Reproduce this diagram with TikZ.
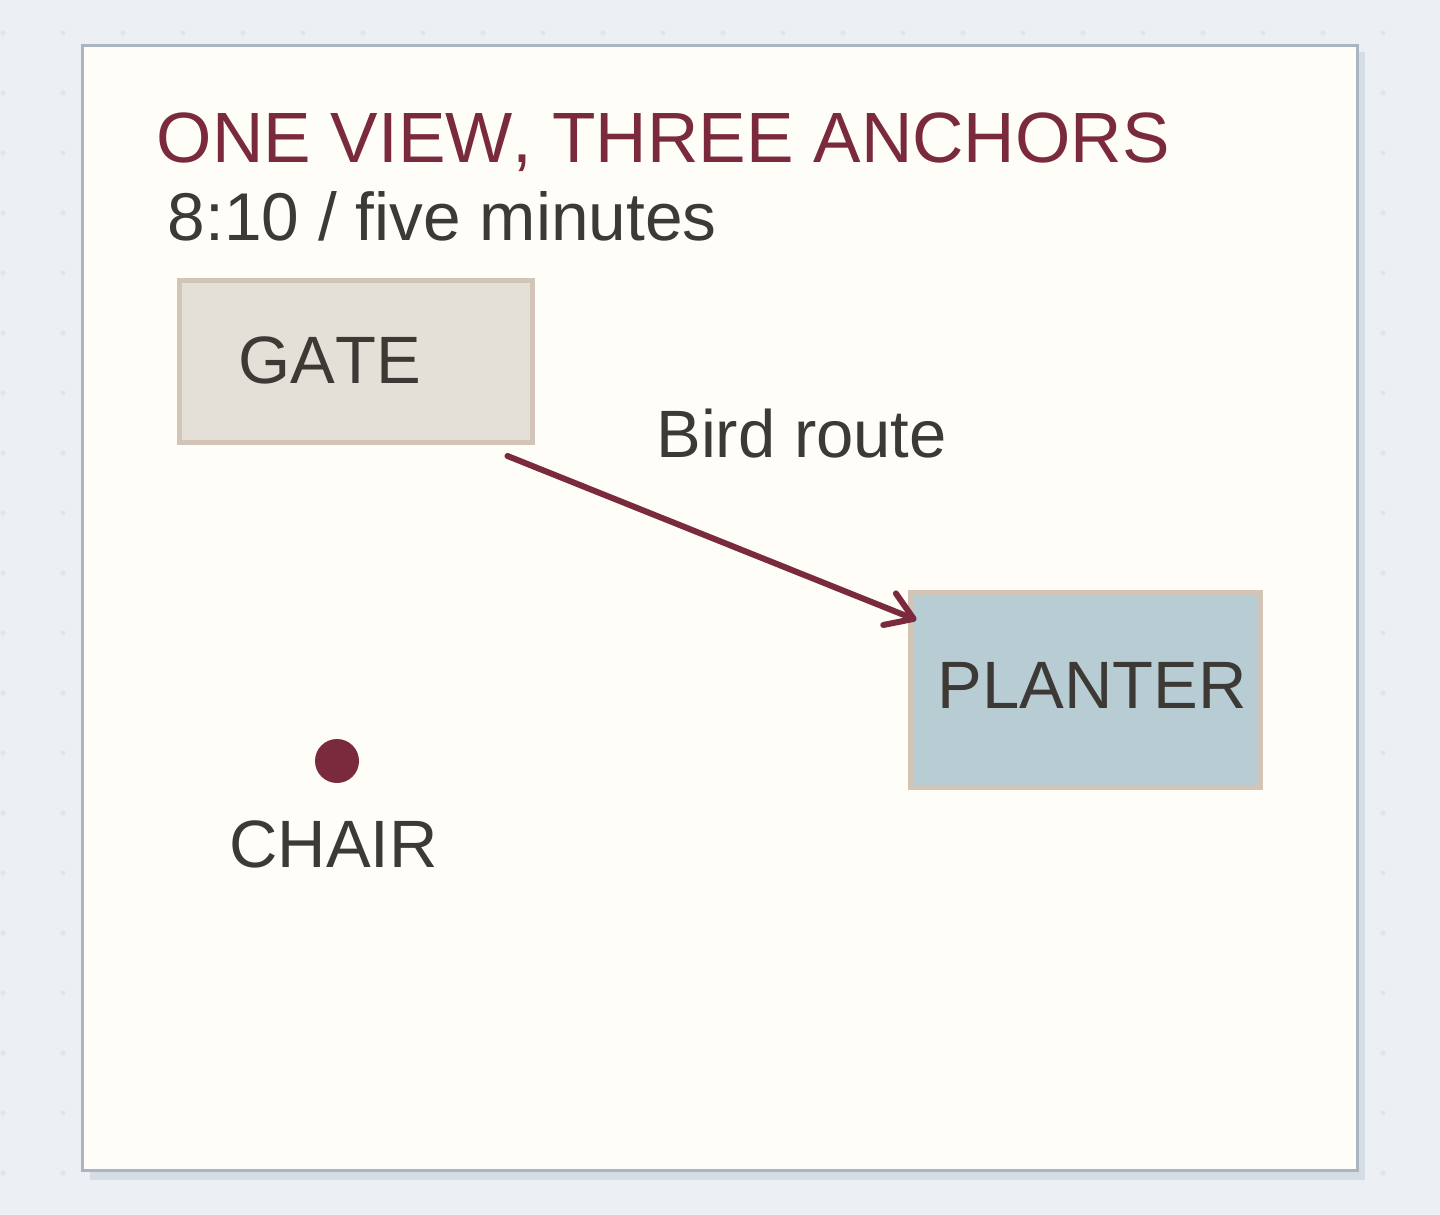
\documentclass[tikz,border=0pt]{standalone}
\usepackage{fontspec}
\setmainfont[Kerning=Off]{Liberation Sans}
\usetikzlibrary{arrows.meta,calc}
\definecolor{bgc}{HTML}{ECF0F5}
\definecolor{dotc}{HTML}{E1E5EB}
\definecolor{panelc}{HTML}{FEFDF8}
\definecolor{panelline}{HTML}{A9B5C1}
\definecolor{shadowc}{HTML}{D4DCE4}
\definecolor{titlec}{HTML}{7A2A3C}
\definecolor{inkc}{HTML}{3D3935}
\definecolor{gatefill}{HTML}{E4E0D7}
\definecolor{boxline}{HTML}{D2C5B7}
\definecolor{planterfill}{HTML}{B8CCD4}
\tikzset{
  labeltext/.style={inner sep=0pt, anchor=base west, text=inkc, font=\fontsize{33.5}{40}\selectfont},
  anchorbox/.style={draw=boxline, line width=2.5pt, inner sep=0pt},
  route/.style={draw=titlec, line width=3pt, line cap=round, -{Straight Barb[length=13pt,width=17pt,line cap=round,line join=round]}},
}
\begin{document}
\begin{tikzpicture}[x=0.5pt,y=-0.5pt]
\useasboundingbox (0,0) rectangle (1440,1215);
\fill[bgc] (0,0) rectangle (1440,1215);
\foreach \i in {0,...,23} {
  \foreach \j in {0,...,19} {
    \fill[dotc] ({3+60*\i},{33+60*\j}) circle (2.6);
  }
}
% panel
\fill[shadowc] (90,52) rectangle (1365,1180);
\filldraw[fill=panelc, draw=panelline, line width=1.5pt] (82.5,45) rectangle (1357.5,1170);
% titles
\node[inner sep=0pt, anchor=base west, text=titlec, font=\fontsize{35.6}{42}\selectfont] (title) at (156.5,162) {ONE VIEW, THREE ANCHORS};
\node[labeltext, font=\fontsize{33.8}{40}\selectfont] (subtitle) at (167.5,240.5) {8:10 / five minutes};
% boxes
\node[anchorbox, fill=gatefill, minimum width=176.5pt, minimum height=81pt] (gate) at (356,361.5) {};
\node[labeltext] (gatelabel) at (238,383.5) {GATE};
\node[anchorbox, fill=planterfill, minimum width=175pt, minimum height=97.5pt] (planter) at (1085.5,690) {};
\node[labeltext] (planterlabel) at (937.5,708.5) {PLANTER};
% chair
\fill[titlec] (337,761) circle (22) coordinate (chair);
\node[labeltext] (chairlabel) at (229,867) {CHAIR};
% route
\draw[route] ($(gate.south east)+(-27.5,11)$) -- ($(planter.north west)+(8.5,30)$);
\node[labeltext] (routelabel) at (656,457.5) {Bird route};
\end{tikzpicture}
\end{document}
